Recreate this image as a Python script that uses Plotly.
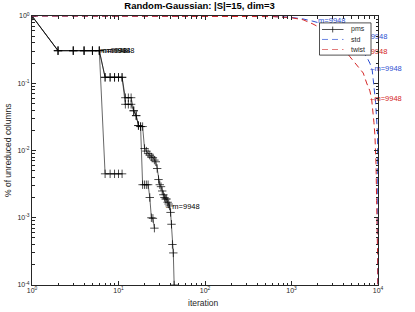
import numpy as np
import plotly.graph_objects as go

# ---------------- data ----------------
# pms runs (black, '+' markers)
pms_a_x = [1, 2, 3, 4, 5, 6, 7, 8, 9, 10, 11]
pms_a_y = [1, .305, .305, .305, .305, .305, .0045, .0045, .0045, .0045, .0045]

pms_b_x = list(range(1, 45))
pms_b_y = [1, .305, .305, .305, .305, .305, .1225, .1225, .1225, .1225, .1225,
           .061, .061, .061, .039, .033, .0235, .0227, .0227, .0107, .0098, .009,
           .0085, .008, .0078, .0072, .0068, .0054, .0037, .0031, .0029, .0025,
           .0022, .002, .0019, .0019, .0017, .0016, .0015, .0012, .0008, .0004,
           .0003, .0001]

pms_c_x = list(range(1, 27))
pms_c_y = [1, .305, .305, .305, .305, .305, .1225, .1225, .1225, .1225, .1225,
           .0486, .0486, .0486, .039, .033, .0235, .0227, .0031, .0031, .0031,
           .0031, .002, .001, .00098, .0007]

# std (blue dashed)
std_x = [1, 10, 100, 300, 600, 961, 1358, 1772, 2500, 3500, 4500, 5500, 6500,
         7385, 8060, 8560, 8810, 9210, 9380, 9640, 9800, 9890, 9920, 9940, 9948]
std_y = [1, 1, 1, .998, .985, .957, .904, .836, .74, .6, .48, .38, .3,
         .248, .198, .158, .113, .072, .0515, .0294, .02, .0169, .005, .001, .0001]

# twist (red dashed)
twist_x = [1, 10, 100, 300, 600, 961, 1358, 1772, 2500, 3200, 4000, 4734, 5660,
           6750, 7385, 8060, 8440, 8810, 8970, 9210, 9500, 9640, 9800, 9900, 9940, 9948]
twist_y = [1, 1, 1, .997, .98, .95, .88, .76, .6, .45, .33, .248, .187,
           .142, .101, .077, .058, .037, .0263, .0169, .006, .0018, .0008, .0004, .0002, .0001]

# labels
pms_lab_x = [6.1, 6.6, 7.4, 35.5]
pms_lab_y = [.305, .305, .305, .00144]
pms_lab_t = ["m=9948", "m=9948", "m=9948", "\u2013 m=9948"]
std_lab_x = [2030, 6200, 8150]
std_lab_y = [.845, .488, .164]
std_lab_t = ["m=9948", "m=9948", "\u2013m=9948"]
twist_lab_x = [6200, 8150]
twist_lab_y = [.294, .0574]
twist_lab_t = ["m=9948", "\u2013m=9948"]

legend_names = ["pms", "std", "twist"]

xtick_vals = [1, 10, 100, 1000, 10000]
xtick_text = ["10<sup>0</sup>", "10<sup>1</sup>", "10<sup>2</sup>", "10<sup>3</sup>", "10<sup>4</sup>"]
ytick_vals = [1e-4, 1e-3, 1e-2, 1e-1, 1]
ytick_text = ["10<sup>-4</sup>", "10<sup>-3</sup>", "10<sup>-2</sup>", "10<sup>-1</sup>", "10<sup>0</sup>"]
x_minor = [m * 10 ** e for e in range(0, 4) for m in range(2, 10)]
y_minor = [m * 10.0 ** e for e in range(-4, 0) for m in range(2, 10)]

# ---------------- style ----------------
BLUE = "#2d4fd2"
RED = "#d42424"
BLUE_LIGHT = "#6c86e2"
RED_LIGHT = "#e27c7c"
AX = "#262626"
FONT = "Liberation Sans, Arial, sans-serif"
DASH = "6px,4px"

fig = go.Figure()

for xs, ys in [(pms_a_x, pms_a_y), (pms_b_x, pms_b_y), (pms_c_x, pms_c_y)]:
    fig.add_trace(go.Scatter(
        x=xs, y=ys, mode="lines+markers", name="pms", showlegend=False,
        line=dict(color="black", width=0.6),
        marker=dict(symbol="cross-thin", size=6, line=dict(color="black", width=0.7)),
        hoverinfo="skip"))

fig.add_trace(go.Scatter(
    x=std_x, y=std_y, mode="lines", name="std", showlegend=False,
    line=dict(color=BLUE, width=1, dash=DASH), hoverinfo="skip"))
fig.add_trace(go.Scatter(
    x=twist_x, y=twist_y, mode="lines", name="twist", showlegend=False,
    line=dict(color=RED, width=1, dash=DASH), hoverinfo="skip"))

for xs, ys, ts, col in [(pms_lab_x, pms_lab_y, pms_lab_t, "black"),
                        (std_lab_x, std_lab_y, std_lab_t, BLUE),
                        (twist_lab_x, twist_lab_y, twist_lab_t, RED)]:
    fig.add_trace(go.Scatter(
        x=xs, y=ys, text=ts, mode="text", textposition="middle right",
        textfont=dict(size=7.5, color=col, family=FONT),
        showlegend=False, cliponaxis=False, hoverinfo="skip"))

axis_common = dict(
    type="log", showgrid=False, zeroline=False, showline=True, linecolor=AX,
    linewidth=1, mirror="ticks", ticks="inside", ticklen=4, tickcolor=AX,
    tickwidth=0.8, tickfont=dict(size=7, color=AX, family=FONT),
)

fig.update_xaxes(range=[0, 4], tickvals=xtick_vals, ticktext=xtick_text,
                 minor=dict(tickvals=x_minor, ticks="inside", ticklen=2.5,
                            tickcolor=AX, tickwidth=0.6, showgrid=False),
                 ticklabelstandoff=-1, **axis_common)
fig.update_yaxes(range=[-4, 0], tickvals=ytick_vals, ticktext=ytick_text,
                 minor=dict(tickvals=y_minor, ticks="inside", ticklen=2.5,
                            tickcolor=AX, tickwidth=0.6, showgrid=False),
                 **axis_common)

# ---- hand-built legend box (compact, MATLAB-like) ----
PW, PH, PL, PB = 346.0, 273.0, 32.0, 285.0   # plot-area size/offsets in px
def px2x(p):
    return (p - PL) / PW
def py2y(p):
    return (PB - p) / PH

shapes = [dict(type="rect", xref="paper", yref="paper", layer="above",
               x0=px2x(319.5), x1=px2x(371), y0=py2y(51.7), y1=py2y(19),
               fillcolor="white", line=dict(color=AX, width=0.8))]
row_py = [25.7, 35.8, 46.0]
styles = [("black", "solid", 0.7), (BLUE_LIGHT, DASH, 1), (RED_LIGHT, DASH, 1)]
for rp, (col, dsh, w) in zip(row_py, styles):
    shapes.append(dict(type="line", xref="paper", yref="paper", layer="above",
                       x0=px2x(322), x1=px2x(343.5), y0=py2y(rp), y1=py2y(rp),
                       line=dict(color=col, width=w, dash=dsh)))
# '+' marker on pms sample
cx = 332.7
shapes.append(dict(type="line", xref="paper", yref="paper", layer="above",
                   x0=px2x(cx), x1=px2x(cx), y0=py2y(row_py[0] - 3), y1=py2y(row_py[0] + 3),
                   line=dict(color="black", width=0.7)))

annotations = []
for name, rp in zip(legend_names, row_py):
    annotations.append(dict(text=name, xref="paper", yref="paper", x=px2x(348.5),
                            y=py2y(rp), xanchor="left", yanchor="middle",
                            showarrow=False, font=dict(size=7, color=AX, family=FONT)))
annotations.append(dict(text="iteration", xref="paper", yref="paper",
                        x=px2x(203), y=py2y(303), xanchor="center", yanchor="middle",
                        showarrow=False, font=dict(size=8.5, color=AX, family=FONT)))
annotations.append(dict(text="% of unreduced columns", xref="paper", yref="paper",
                        x=px2x(8), y=py2y(148), xanchor="center", yanchor="middle",
                        textangle=-90, showarrow=False,
                        font=dict(size=8.5, color=AX, family=FONT)))

fig.update_layout(
    width=415, height=312, autosize=False,
    margin=dict(l=32, r=37, t=12, b=27),
    paper_bgcolor="white", plot_bgcolor="white",
    font=dict(family=FONT, size=7, color=AX),
    showlegend=False,
    title=dict(text="<b>Random-Gaussian: |S|=15, dim=3</b>",
               x=0.481, xref="container", xanchor="center",
               y=0.981, yref="container", yanchor="middle",
               font=dict(size=9.5, color="black", family=FONT)),
    shapes=shapes,
    annotations=annotations,
)

fig.write_html("out.html", config={"displayModeBar": False},
               post_script="document.body.style.margin='0';document.body.style.overflow='hidden';")
